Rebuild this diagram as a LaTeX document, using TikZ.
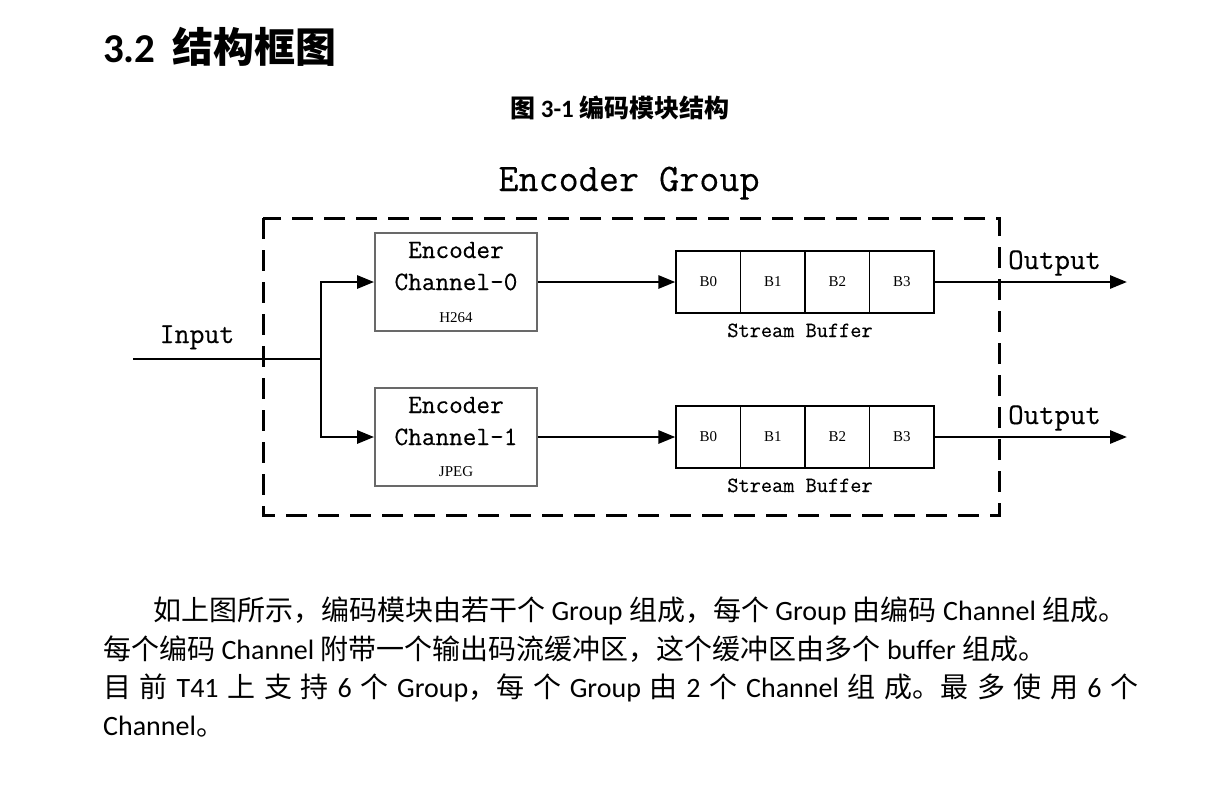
\documentclass[tikz,border=0pt]{standalone}
\usepackage{fontspec}
\setmainfont{Carlito}
\newfontfamily\cjk{Noto Sans CJK SC}
\newfontfamily\cellfont{Liberation Serif}
\newfontfamily\diagfont{Latin Modern Mono}[FakeBold=0.35]
\usetikzlibrary{arrows.meta}
\definecolor{boxgray}{RGB}{105,105,105}

\tikzset{
  wire/.style={line width=2.8pt},
  arr/.style={line width=2.8pt,-{Triangle[length=17pt,width=13pt]}},
  chbox/.style={draw=boxgray,line width=1.8pt,minimum width=162pt,minimum height=98pt,inner sep=0pt},
  cell/.style={draw,line width=1.3pt,minimum width=64.5pt,minimum height=62pt,inner sep=0pt,
    font=\cellfont\fontsize{15}{15}\selectfont},
  mono/.style={font=\diagfont\fontsize{#1}{#1}\selectfont,inner sep=0pt},
  small/.style={font=\cellfont\fontsize{15}{15}\selectfont,inner sep=0pt},
  para/.style={anchor=base west,inner sep=0pt,font=\fontsize{28}{38}\selectfont},
}

\begin{document}
\begin{tikzpicture}[x=1pt,y=-1pt]
    \useasboundingbox (0,0) rectangle (1210,785);
    % headings
    \node[anchor=base west,inner sep=0pt] (head) at (103,62)
        {\fontsize{41}{41}\selectfont\bfseries 3.2\hspace{17pt}{\cjk 结构框图}};
    \node[anchor=base west,inner sep=0pt] (caption) at (510,117)
        {\fontsize{25}{25}\selectfont\bfseries{\cjk 图} 3-1 {\cjk 编码模块结构}};
    % diagram
    \node[mono=39,anchor=base] (group) at (629,191) {Encoder Group};
    \draw[line width=3pt,dash pattern=on 21pt off 11pt] (263,218) rectangle (999,515);
        \coordinate (in) at (133,359);
        \coordinate (split) at (321,359);
        \node[mono=29,anchor=base] (inlabel) at (197,343) {Input};
        % channel 0
        \node[chbox] (enc0) at (456,282) {};
        \node[mono=26.5,anchor=base] (enc0a) at (456,258) {Encoder};
        \node[mono=26.5,anchor=base] (enc0b) at (456,290) {Channel-0};
        \node[small,anchor=base] (enc0c) at (456,322) {H264};
        \foreach \i in {0,...,3}
            \node[cell] (buf0-\i) at (708.25+64.5*\i,282) {B\i};
        \node[mono=21.7,anchor=base] (sb0) at (800,337) {Stream Buffer};
        \coordinate (out0) at (1127,282);
        \node[mono=30,anchor=base west] (outl0) at (1008,269) {Output};
        % channel 1
        \node[chbox] (enc1) at (456,437) {};
        \node[mono=26.5,anchor=base] (enc1a) at (456,413) {Encoder};
        \node[mono=26.5,anchor=base] (enc1b) at (456,445) {Channel-1};
        \node[small,anchor=base] (enc1c) at (456,476) {JPEG};
        \foreach \i in {0,...,3}
            \node[cell] (buf1-\i) at (708.25+64.5*\i,437) {B\i};
        \node[mono=21.7,anchor=base] (sb1) at (800,492) {Stream Buffer};
        \coordinate (out1) at (1127,437);
        \node[mono=30,anchor=base west] (outl1) at (1008,424) {Output};
        % connectors
        \draw[wire] (in) -- (split);
        \draw[arr] (split) |- (enc0.west);
        \draw[arr] (split) |- (enc1.west);
        \draw[arr] (enc0.east) -- (buf0-0.west);
        \draw[arr] (enc1.east) -- (buf1-0.west);
        \draw[arr] (buf0-3.east) -- (out0);
        \draw[arr] (buf1-3.east) -- (out1);
    % text
    \node[para] (p1) at (153,620)
        {{\cjk 如上图所示，编码模块由若干个} Group {\cjk 组成，每个} Group {\cjk 由编码} Channel {\cjk 组成。}};
    \node[para] (p2) at (103,659)
        {{\cjk 每个编码} Channel {\cjk 附带一个输出码流缓冲区，这个缓冲区由多个} buffer {\cjk 组成。}};
    \node[para] (p3) at (103,697)
        {\makebox[1035pt][s]{{\cjk 目 前} T41 {\cjk 上 支 持} 6 {\cjk 个} Group{\cjk ，每 个} Group {\cjk 由} 2 {\cjk 个} Channel {\cjk 组 成。最 多 使 用} 6 {\cjk 个}}};
    \node[para] (p4) at (103,735) {Channel{\cjk 。}};
\end{tikzpicture}
\end{document}
